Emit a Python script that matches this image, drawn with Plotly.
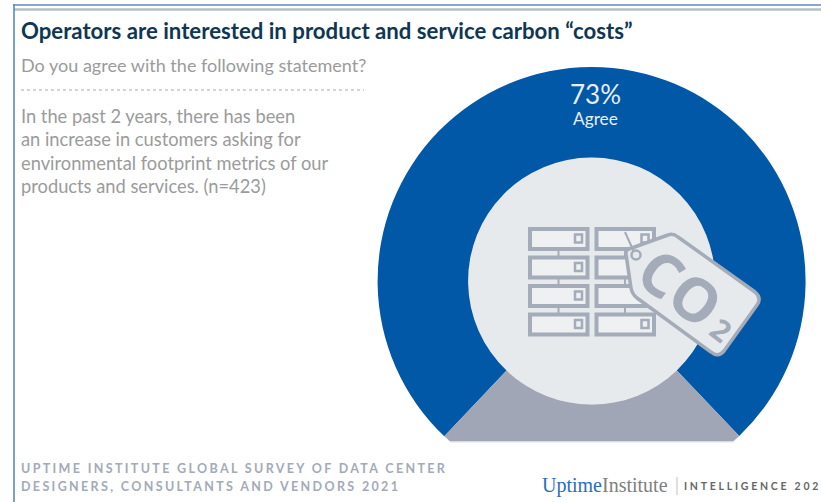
import plotly.graph_objects as go

# Slice shares as drawn in the picture (the arc spans about 76% of the ring), label as printed
slice_names = ["Agree", "Other"]
slice_shares = [75.8, 24.2]
slice_colors = ["#0058a6", "#a0a6b5"]
agree_label = "73%"
agree_name = "Agree"

title = "Operators are interested in product and service carbon “costs”"
question = "Do you agree with the following statement?"
statement = [
    "In the past 2 years, there has been",
    "an increase in customers asking for",
    "environmental footprint metrics of our",
    "products and services. (n=423)",
]
source = ["UPTIME INSTITUTE GLOBAL SURVEY OF DATA CENTER", "DESIGNERS, CONSULTANTS AND VENDORS 2021"]

W, H = 821, 502
CX, CY, R, r = 591.6, 281, 214, 123.5
GRAY = "#a4abb9"
LIGHT = "#e7eaed"

def px(x): return x / W
def py(y): return 1 - y / H

shapes = []
annos = []

def rect(x0, y0, x1, y1, fill=None, line=None, lw=0, layer="above"):
    shapes.append(dict(type="rect", xref="paper", yref="paper", x0=px(x0), x1=px(x1), y0=py(y0), y1=py(y1),
                       fillcolor=fill or "rgba(0,0,0,0)", line=dict(color=line or "rgba(0,0,0,0)", width=lw), layer=layer))

def seg(x0, y0, x1, y1, color, lw, dash=None):
    shapes.append(dict(type="line", xref="paper", yref="paper", x0=px(x0), x1=px(x1), y0=py(y0), y1=py(y1),
                       line=dict(color=color, width=lw, dash=dash or "solid"), layer="above"))

def text(x, y, s, size, color, family="Lato", anchor="left", weight=None, angle=0):
    if anchor == "left":
        x -= 2
    annos.append(dict(xref="paper", yref="paper", x=px(x), y=py(y), text=s, showarrow=False, xanchor=anchor,
                      yanchor="middle", textangle=angle, align="left",
                      font=dict(size=size, color=color, family=family, weight=weight)))

# frame
seg(13, 5, 821, 5, "#5d88c6", 1.6)
seg(14, 9.5, 821, 9.5, "#b2bfc7", 2.4)
seg(14, 4, 14, 502, "#5d88c6", 1.6)

# inner disc
shapes.append(dict(type="circle", xref="paper", yref="paper", x0=px(CX - r), x1=px(CX + r), y0=py(CY - r), y1=py(CY + r),
                   fillcolor=LIGHT, line=dict(width=0), layer="below"))
# flat cut at the bottom of the ring
rect(370, 441.5, 821, 502, fill="white")
seg(450, 442, 734, 442, "#dfe2e6", 1)

# dotted rule
seg(21, 90, 364, 90, "#a8a8a8", 1, "dot")

# server icon
for cx0 in (530, 596.5):
    for i, y0 in enumerate((229, 257.5, 286, 314.5)):
        rect(cx0, y0, cx0 + 57.5, y0 + 20, fill="#eef0f2", line=GRAY, lw=4)
        rect(cx0 + 45, y0 + 5.5, cx0 + 52, y0 + 13.5, fill="#eef0f2", line=GRAY, lw=2.5)
        if i < 3:
            seg(cx0 + 28.5, y0 + 21, cx0 + 28.5, y0 + 27, GRAY, 2)

# tag
def P(x, y): return f"{px(x):.5f},{py(y):.5f}"
tag = ("M" + P(629, 249) + " L" + P(668, 235) + " Q" + P(673, 233) + " " + P(678, 237)
       + " L" + P(755, 292) + " Q" + P(762, 298) + " " + P(757, 305)
       + " L" + P(724, 351) + " Q" + P(718, 358) + " " + P(711, 352)
       + " L" + P(637, 298) + " Q" + P(632, 294) + " " + P(631, 288)
       + " L" + P(626, 254) + " Q" + P(625, 250) + " " + P(629, 249) + " Z")
shapes.append(dict(type="path", xref="paper", yref="paper", path=tag, fillcolor=LIGHT,
                   line=dict(color=GRAY, width=3.5), layer="above"))
shapes.append(dict(type="circle", xref="paper", yref="paper", x0=px(631.5), x1=px(640.5), y0=py(250.5), y1=py(259.5),
                   fillcolor=LIGHT, line=dict(color=GRAY, width=2.5), layer="above"))
seg(625, 232, 634, 252, GRAY, 2)
text(681, 287, "CO", 60, GRAY, family="Open Sans", anchor="center", weight=700, angle=37)
text(721, 329, "2", 30, GRAY, family="Open Sans", anchor="center", weight=700, angle=37)

# texts
text(21, 31, title, 22.2, "#0f3652", weight=700)
text(21, 65, question, 18.05, "#9b9b9b")
for y, line in zip((116, 139, 163, 186), statement):
    text(21, y, line, 18.3, "#9b9b9b")
text(595, 94, agree_label, 26, "#e8eef6", anchor="center")
text(595, 118, agree_name, 17.3, "#e8eef6", anchor="center")
for y, line in zip((468, 486), source):
    text(21, y, f'<span style="letter-spacing:2.35px">{line}</span>', 12.5, "#a3aab8", weight=700)
text(542, 485, '<span style="color:#2a6ebb">Uptime</span><span style="color:#808080">Institute</span>',
     20, "#808080", family="Liberation Serif")
seg(677, 477, 677, 495, "#c0c0c0", 1)
text(684, 486, '<span style="letter-spacing:2.75px">INTELLIGENCE 2021</span>', 10.5, "#666666", weight=700)

fig = go.Figure(go.Pie(
    labels=slice_names, values=slice_shares, hole=r / R, sort=False, direction="clockwise", rotation=223.5,
    marker=dict(colors=slice_colors, line=dict(width=0)), textinfo="none", hoverinfo="label",
    domain=dict(x=[px(CX - R), px(CX + R)], y=[py(CY + R), py(CY - R)]), showlegend=False,
))
fig.update_layout(width=W, height=H, margin=dict(l=0, r=0, t=0, b=0), paper_bgcolor="white", plot_bgcolor="white",
                  shapes=shapes, annotations=annos)
fig.write_html("out.html", post_script="document.body.style.margin='0';", config=dict(displayModeBar=False))
